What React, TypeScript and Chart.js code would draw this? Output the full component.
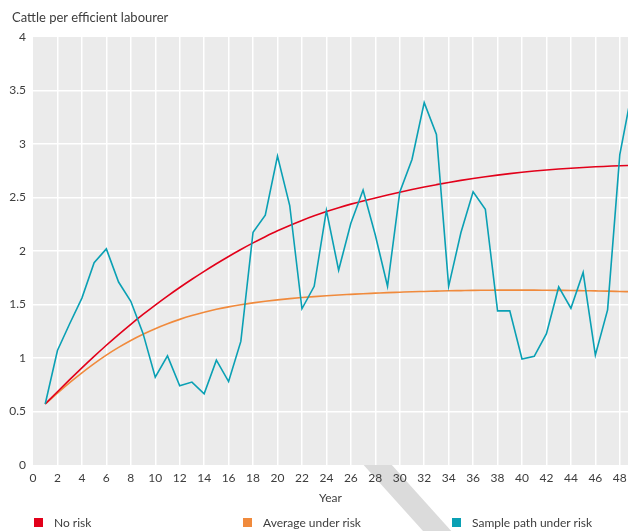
import React, { useEffect, useRef } from "react";
import { Chart, registerables } from "chart.js";

Chart.register(...registerables);

// ---------- data ----------
const years = [
  1, 2, 3, 4, 5, 6, 7, 8, 9, 10, 11, 12, 13, 14, 15, 16, 17, 18, 19, 20,
  21, 22, 23, 24, 25, 26, 27, 28, 29, 30, 31, 32, 33, 34, 35, 36, 37, 38, 39, 40,
  41, 42, 43, 44, 45, 46, 47, 48, 49,
];

const noRisk = [
  0.57, 0.685, 0.798, 0.908, 1.015, 1.119, 1.219, 1.315, 1.407, 1.495,
  1.579, 1.659, 1.736, 1.81, 1.881, 1.949, 2.014, 2.076, 2.134, 2.189,
  2.239, 2.286, 2.329, 2.369, 2.405, 2.438, 2.468, 2.496, 2.523, 2.549,
  2.574, 2.598, 2.62, 2.641, 2.66, 2.678, 2.694, 2.709, 2.723, 2.736,
  2.747, 2.757, 2.766, 2.774, 2.781, 2.787, 2.792, 2.797, 2.801,
];

const averageUnderRisk = [
  0.57, 0.672, 0.77, 0.862, 0.948, 1.027, 1.099, 1.164, 1.222, 1.274,
  1.32, 1.361, 1.397, 1.428, 1.455, 1.478, 1.498, 1.515, 1.53, 1.543,
  1.555, 1.565, 1.574, 1.582, 1.589, 1.595, 1.601, 1.606, 1.611, 1.615,
  1.619, 1.622, 1.625, 1.628, 1.63, 1.632, 1.633, 1.634, 1.634, 1.634,
  1.634, 1.633, 1.632, 1.631, 1.629, 1.627, 1.625, 1.622, 1.619,
];

const samplePathUnderRisk = [
  0.57, 1.07, 1.32, 1.56, 1.89, 2.02, 1.71, 1.53, 1.23, 0.82,
  1.02, 0.74, 0.775, 0.665, 0.98, 0.78, 1.155, 2.175, 2.335, 2.887,
  2.425, 1.46, 1.67, 2.38, 1.82, 2.26, 2.57, 2.15, 1.67, 2.55,
  2.855, 3.387, 3.09, 1.67, 2.17, 2.553, 2.39, 1.44, 1.44, 0.99,
  1.015, 1.227, 1.664, 1.465, 1.8, 1.027, 1.45, 2.9, 3.5,
];

const xTickValues = [
  0, 2, 4, 6, 8, 10, 12, 14, 16, 18, 20, 22, 24, 26, 28, 30, 32, 34, 36, 38,
  40, 42, 44, 46, 48,
];
const yTickValues = [0, 0.5, 1, 1.5, 2, 2.5, 3, 3.5, 4];

const seriesLabels = ["No risk", "Average under risk", "Sample path under risk"];
const yAxisTitle = "Cattle per efficient labourer";
const xAxisTitle = "Year";

// ---------- styles ----------
const RED = "#e2001a";
const ORANGE = "#f08a3c";
const TEAL = "#0aa0b4";
const TEXT = "#3d3d3d";
const FONT = "Lato, 'Open Sans', sans-serif";

const plotBackground = {
  id: "plotBackground",
  beforeDraw(chart: any) {
    const { ctx, chartArea: a } = chart;
    ctx.save();
    ctx.fillStyle = "#ebebeb";
    ctx.fillRect(a.left, a.top, a.right - a.left, a.bottom - a.top);
    // decorative diagonal band below the plot
    const xs = chart.scales.x;
    const cx = xs.getPixelForValue(28.2);
    ctx.beginPath();
    ctx.rect(0, a.bottom, chart.width, chart.height - a.bottom);
    ctx.clip();
    ctx.strokeStyle = "#dbdbdb";
    ctx.lineWidth = 21;
    ctx.lineCap = "butt";
    ctx.beginPath();
    ctx.moveTo(cx - 0.9 * 20, a.bottom - 20);
    ctx.lineTo(cx + 0.9 * 110, a.bottom + 110);
    ctx.stroke();
    ctx.restore();
  },
};

export default function App() {
  const ref = useRef<HTMLCanvasElement | null>(null);

  useEffect(() => {
    if (!ref.current) return;
    const mk = (vals: number[]) => years.map((x, i) => ({ x, y: vals[i] }));
    const chart = new Chart(ref.current, {
      type: "line",
      data: {
        datasets: [
          {
            label: seriesLabels[0],
            data: mk(noRisk),
            borderColor: RED,
            backgroundColor: RED,
            borderWidth: 1.6,
            pointRadius: 0,
            cubicInterpolationMode: "monotone",
            order: 1,
          },
          {
            label: seriesLabels[1],
            data: mk(averageUnderRisk),
            borderColor: ORANGE,
            backgroundColor: ORANGE,
            borderWidth: 1.6,
            pointRadius: 0,
            cubicInterpolationMode: "monotone",
            order: 2,
          },
          {
            label: seriesLabels[2],
            data: mk(samplePathUnderRisk),
            borderColor: TEAL,
            backgroundColor: TEAL,
            borderWidth: 1.6,
            pointRadius: 0,
            tension: 0,
            order: 0,
          },
        ],
      },
      options: {
        responsive: false,
        animation: false,
        layout: { padding: { top: 37, right: 0, bottom: 26, left: 0 } },
        plugins: {
          legend: { display: false },
          tooltip: { enabled: false },
          title: { display: false },
        },
        scales: {
          x: {
            type: "linear",
            min: 0,
            max: 48.67,
            afterBuildTicks: (s: any) => {
              s.ticks = xTickValues.map((v) => ({ value: v }));
            },
            afterFit: (s: any) => {
              s.height = 40;
              s.paddingLeft = 0;
              s.paddingRight = 0;
            },
            grid: {
              color: (c: any) =>
                c.tick && c.tick.value === 0 ? "rgba(0,0,0,0)" : "#ffffff",
              lineWidth: 1.5,
              drawTicks: false,
            },
            border: { display: false },
            ticks: {
              color: TEXT,
              font: { family: FONT, size: 12 },
              padding: 6,
              maxRotation: 0,
              autoSkip: false,
              callback: (v: any) => String(v),
            },
            title: {
              display: true,
              text: xAxisTitle,
              color: TEXT,
              font: { family: FONT, size: 12 },
              padding: { top: 3, bottom: 0 },
            },
          },
          y: {
            type: "linear",
            min: 0,
            max: 4,
            afterBuildTicks: (s: any) => {
              s.ticks = yTickValues.map((v) => ({ value: v }));
            },
            afterFit: (s: any) => {
              s.width = 33;
            },
            grid: {
              color: (c: any) =>
                c.tick && (c.tick.value === 0 || c.tick.value === 4)
                  ? "rgba(0,0,0,0)"
                  : "#ffffff",
              lineWidth: 1.5,
              drawTicks: false,
            },
            border: { display: false },
            ticks: {
              color: TEXT,
              font: { family: FONT, size: 12 },
              padding: 7,
              callback: (v: any) => String(v),
            },
          },
        },
      },
      plugins: [plotBackground],
    } as any);
    return () => chart.destroy();
  }, []);

  const colors = [RED, ORANGE, TEAL];
  const legendX = [34, 243, 452];

  return (
    <div
      style={{
        position: "absolute",
        left: 0,
        top: 0,
        width: 628,
        height: 531,
        overflow: "hidden",
        fontFamily: FONT,
        color: TEXT,
      }}
    >
      <canvas ref={ref} width={628} height={531} style={{ display: "block" }} />
      <div
        style={{
          position: "absolute",
          left: 12,
          top: 8,
          fontSize: 13,
          lineHeight: "18px",
          whiteSpace: "nowrap",
        }}
      >
        {yAxisTitle}
      </div>
      {seriesLabels.map((lab, i) => (
        <div
          key={lab}
          style={{
            position: "absolute",
            left: legendX[i],
            top: 513,
            height: 18,
            display: "flex",
            alignItems: "center",
            fontSize: 12,
            whiteSpace: "nowrap",
          }}
        >
          <span
            style={{
              display: "inline-block",
              width: 9,
              height: 9,
              background: colors[i],
              marginRight: 11,
            }}
          />
          <span>{lab}</span>
        </div>
      ))}
    </div>
  );
}
